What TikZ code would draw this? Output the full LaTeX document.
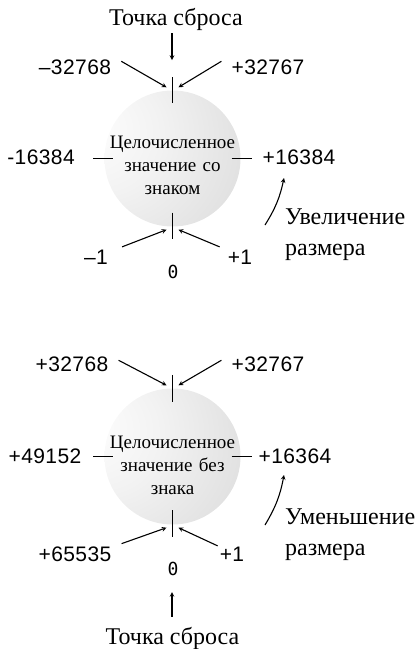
\documentclass[tikz,border=0pt]{standalone}
\usepackage{fontspec}
\setmainfont{Liberation Serif}
\newfontfamily\numfont[LetterSpace=2]{Liberation Sans}
\newfontfamily\zerofont{DejaVu Sans Mono}
\usetikzlibrary{calc,positioning,arrows,shapes.geometric}
\pgfdeclareradialshading{disc}{\pgfpoint{-35bp}{12bp}}{color(0bp)=(white); color(22bp)=(black!5); color(55bp)=(black!15); color(88bp)=(black!38)}
\tikzstyle{ball} = [circle, minimum size=136pt, inner sep=0pt, shading=disc]
\tikzstyle{inside} = [text width=140pt, align=center, inner sep=0pt, font=\fontsize{19}{23}\selectfont]
\tikzstyle{num} = [anchor=base, inner sep=0pt, font=\numfont\fontsize{21}{25}\selectfont]
\tikzstyle{zero} = [anchor=base, inner sep=0pt, font=\zerofont\fontsize{18}{22}\selectfont]
\tikzstyle{caption} = [anchor=base, inner sep=0pt, font=\fontsize{24}{31}\selectfont]
\tikzstyle{note} = [anchor=north west, align=left, inner sep=0pt, font=\fontsize{24}{31}\selectfont]
\tikzstyle{arrow} = [line width=1.1pt,->,>=stealth]
\tikzstyle{tick} = [line width=1.2pt]

\begin{document}
\begin{tikzpicture}[x=1pt,y=-1pt]
\useasboundingbox (0,0) rectangle (419,649);
\node (c1) [ball] at (172.5,158.5) {};
\node (c1text) [inside] at ([yshift=-7pt]c1.center) {Целочисленное\\значение со\\знаком};
\node (reset1) [caption] at (176,25) {Точка сброса};
\node (m32768) [num] at (75,74.5) {–32768};
\node (p32767) [num] at (268,74.5) {+32767};
\node (m16384) [num] at (41,164.5) {-16384};
\node (p16384) [num] at (299,164.5) {+16384};
\node (m1) [num] at (96,264.5) {–1};
\node (p1) [num] at (240,264.5) {+1};
\node (zero1) [zero] at (173,278.5) {0};
\node (grow) [note] at (285,209) {Увеличение\\размера};
\coordinate (r1) at (172,60);
\coordinate (tl1) at ([shift={(-6pt,3pt)}]c1.north);
\coordinate (tr1) at ([shift={(6pt,3pt)}]c1.north);
\coordinate (bl1) at ([shift={(-6pt,-3pt)}]c1.south);
\coordinate (br1) at ([shift={(6pt,-3pt)}]c1.south);
\coordinate (g1) at (284,178);
\draw [tick] ([yshift=13pt]c1.north) -- ([yshift=-13pt]c1.north);
\draw [tick] ([yshift=14pt]c1.south) -- ([yshift=-12pt]c1.south);
\draw [tick] ([xshift=-11pt]c1.west) -- ([xshift=9pt]c1.west);
\draw [tick] ([xshift=-9pt]c1.east) -- ([xshift=11pt]c1.east);
\draw [arrow] ([yshift=-3pt]reset1.south -| r1) -- (r1);
\draw [arrow] ([shift={(10pt,6pt)}]m32768.east) -- (tl1);
\draw [arrow] ([shift={(-10pt,6pt)}]p32767.west) -- (tr1);
\draw [arrow] ([shift={(14pt,3pt)}]m1.north east) -- (bl1);
\draw [arrow] ([shift={(-8pt,3pt)}]p1.north west) -- (br1);
\draw [arrow] ([shift={(-20pt,-16pt)}]grow.north west) to[bend right=10] (g1);

\node (c2) [ball] at (172.5,456.5) {};
\node (c2text) [inside] at ([yshift=-8.5pt]c2.center) {Целочисленное\\значение без\\знака};
\node (p32768) [num] at (72,371.5) {+32768};
\node (p32767b) [num] at (268,371.5) {+32767};
\node (p49152) [num] at (45,463.5) {+49152};
\node (p16364) [num] at (295,463.5) {+16364};
\node (p65535) [num] at (75,561.5) {+65535};
\node (p1b) [num] at (232,561.5) {+1};
\node (zero2) [zero] at (173,575.5) {0};
\node (shrink) [note] at (285,509) {Уменьшение\\размера};
\node (reset2) [caption] at (172.5,644) {Точка сброса};
\coordinate (r2) at (172,592);
\coordinate (tl2) at ([shift={(-6pt,3pt)}]c2.north);
\coordinate (tr2) at ([shift={(6pt,3pt)}]c2.north);
\coordinate (bl2) at ([shift={(-6pt,-3pt)}]c2.south);
\coordinate (br2) at ([shift={(6pt,-3pt)}]c2.south);
\coordinate (g2) at (284,475);
\draw [tick] ([yshift=13.5pt]c2.north) -- ([yshift=-13.5pt]c2.north);
\draw [tick] ([yshift=14.5pt]c2.south) -- ([yshift=-12.5pt]c2.south);
\draw [tick] ([xshift=-11pt]c2.west) -- ([xshift=9pt]c2.west);
\draw [tick] ([xshift=-9pt]c2.east) -- ([xshift=11pt]c2.east);
\draw [arrow] ([yshift=10pt]reset2.north -| r2) -- (r2);
\draw [arrow] ([shift={(10pt,4pt)}]p32768.east) -- (tl2);
\draw [arrow] ([shift={(-10pt,4pt)}]p32767b.west) -- (tr2);
\draw [arrow] ([shift={(10pt,3pt)}]p65535.north east) -- (bl2);
\draw [arrow] ([shift={(-2pt,1pt)}]p1b.north west) -- (br2);
\draw [arrow] ([shift={(-20pt,-16pt)}]shrink.north west) to[bend right=10] (g2);
\end{tikzpicture}
\end{document}
